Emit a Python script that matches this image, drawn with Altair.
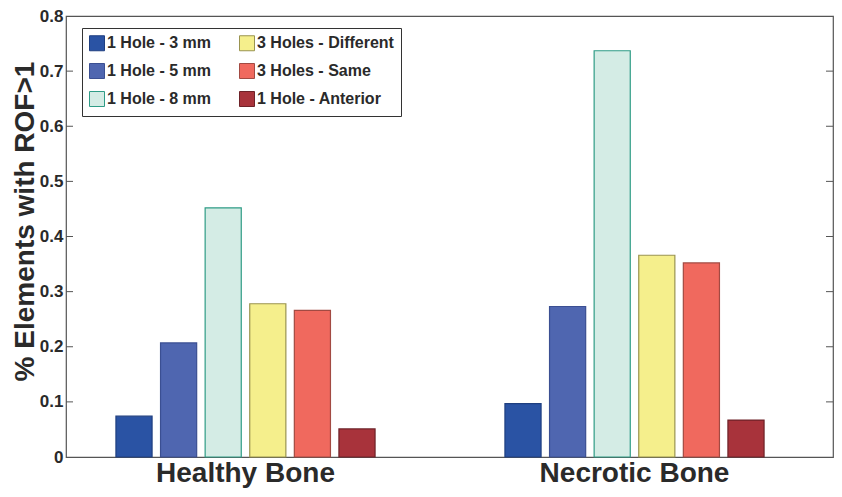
import altair as alt
import pandas as pd

groups = ["Healthy Bone", "Necrotic Bone"]
series = ["1 Hole - 3 mm", "1 Hole - 5 mm", "1 Hole - 8 mm",
          "3 Holes - Different", "3 Holes - Same", "1 Hole - Anterior"]
healthy = [0.074, 0.207, 0.452, 0.278, 0.266, 0.051]
necrotic = [0.097, 0.273, 0.737, 0.366, 0.352, 0.067]
fills = ["#2a53a4", "#4f66b0", "#d4ece5", "#f5ef8c", "#f0695e", "#a8333b"]
strokes = ["#1f3f80", "#3b4f92", "#2f9c86", "#9a9450", "#a24a42", "#6e2228"]
yticks = [0, 0.1, 0.2, 0.3, 0.4, 0.5, 0.6, 0.7, 0.8]

rows = []
for g, vals in zip(groups, [healthy, necrotic]):
    for s, v in zip(series, vals):
        rows.append({"group": g, "series": s, "value": v})
df = pd.DataFrame(rows)

font = "Liberation Sans"
W, H = 767, 441

bars = alt.Chart(df).mark_bar(strokeWidth=1.2).encode(
    x=alt.X("group:N", sort=groups,
            scale=alt.Scale(range=[-15, 763], paddingInner=0.1046, paddingOuter=0.0523),
            axis=alt.Axis(title=None, labelAngle=0, labelFontSize=28, labelFont=font,
                          labelFontWeight="bold", labelColor="#2a2a2a", ticks=False,
                          domain=False, labelPadding=2, labelLimit=0)),
    xOffset=alt.XOffset("series:N", sort=series,
                        scale=alt.Scale(paddingInner=0.19, paddingOuter=1)),
    y=alt.Y("value:Q", scale=alt.Scale(domain=[0, 0.8], nice=False),
            axis=alt.Axis(title="% Elements with ROF>1", values=yticks, format="~g",
                          titleFontSize=28, titleFont=font, titleFontWeight="bold",
                          titleColor="#2a2a2a", titleAngle=270, titleAlign="center",
                          titleBaseline="alphabetic", titleX=-33, titleY=205,
                          labelFont=font, labelFontSize=17,
                          labelFontWeight="bold", labelColor="#2a2a2a", grid=False,
                          ticks=False, domain=False, labelPadding=3)),
    color=alt.Color("series:N", scale=alt.Scale(domain=series, range=fills),
                    legend=alt.Legend(title=None, orient="none", legendX=16, legendY=12,
                                      columns=2, symbolType="square", symbolSize=225,
                                      symbolStrokeWidth=1, labelFont=font,
                                      labelFontSize=16, labelFontWeight="bold",
                                      labelColor="#2a2a2a", rowPadding=8, columnPadding=25,
                                      labelOffset=2, padding=7, strokeColor="#333",
                                      fillColor="white", labelLimit=220)),
    stroke=alt.Stroke("series:N", scale=alt.Scale(domain=series, range=strokes),
                      legend=None),
)

tickdf = pd.DataFrame({"v": yticks[1:-1]})
lticks = alt.Chart(tickdf).mark_rule(color="#555", strokeWidth=1).encode(
    y="v:Q", x=alt.value(0), x2=alt.value(7))
rticks = alt.Chart(tickdf).mark_rule(color="#555", strokeWidth=1).encode(
    y="v:Q", x=alt.value(W - 7), x2=alt.value(W))

chart = alt.layer(bars, lticks, rticks).properties(
    width=W, height=H,
    padding={"left": 58, "top": 8, "right": 1, "bottom": 32},
    autosize=alt.AutoSizeParams(type="none"),
).configure_view(stroke="#555", strokeWidth=1.2)

chart.save("out.html", embed_options={"renderer": "svg", "actions": False})
